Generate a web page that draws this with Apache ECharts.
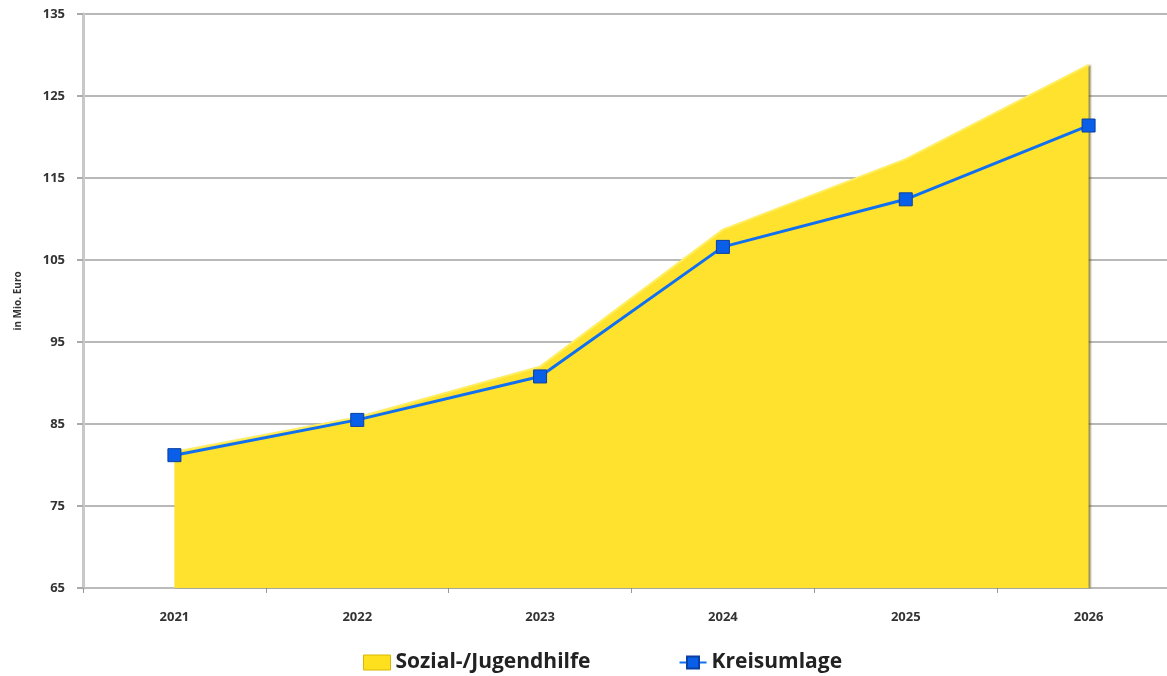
<!DOCTYPE html>
<html><head><meta charset="utf-8">
<script src="https://cdn.jsdelivr.net/npm/echarts@6/dist/echarts.min.js"></script>
<style>html,body{margin:0;padding:0;background:#fff;overflow:hidden;width:1167px;height:676px}#c{width:1180px;height:676px}</style>
</head><body><div id="c"></div>
<script>
const years = ['2021','2022','2023','2024','2025','2026'];
const sozialJugendhilfe = [81.6, 85.8, 92.0, 108.7, 117.3, 128.8];
const kreisumlage = [81.2, 85.5, 90.8, 106.6, 112.4, 121.4];
const yTicks = {min: 65, max: 135, interval: 10};
const seriesNames = ['Sozial-/Jugendhilfe', 'Kreisumlage'];
const yAxisTitle = 'in Mio. Euro';

const font = '"Open Sans", "Liberation Sans", sans-serif';
const chart = echarts.init(document.getElementById('c'));
chart.setOption({
  animation: false,
  textStyle: {fontFamily: font},
  grid: {left: 83, right: 0, top: 14, height: 574},
  legend: {
    top: 647, left: 358, itemGap: 88, itemWidth: 27, itemHeight: 15,
    textStyle: {fontSize: 21, fontWeight: 'bold', color: '#222', fontFamily: font},
    data: [
      {name: seriesNames[0], icon: 'rect', itemStyle: {color: '#FFE01F', borderColor: '#d8b800', borderWidth: 1}},
      {name: seriesNames[1]}
    ]
  },
  xAxis: {
    type: 'category', data: years, boundaryGap: true,
    axisLine: {lineStyle: {color: '#bbb', width: 2}},
    axisTick: {show: true, lineStyle: {color: '#999'}, length: 5},
    axisLabel: {fontSize: 13, fontWeight: 'bold', color: '#333', margin: 23}
  },
  yAxis: {
    type: 'value', min: yTicks.min, max: yTicks.max, interval: yTicks.interval,
    name: yAxisTitle, nameLocation: 'middle', nameGap: 60, nameRotate: 90,
    nameTextStyle: {fontSize: 10, fontWeight: 'bold', color: '#333'},
    axisLine: {show: true, lineStyle: {color: '#c8c8c8', width: 3}},
    axisTick: {show: true, inside: false, length: 6, lineStyle: {color: '#aaa', width: 2}},
    axisLabel: {fontSize: 13, fontWeight: 'bold', color: '#333', margin: 18},
    splitLine: {lineStyle: {color: '#b8b8b8', width: 2}}
  },
  series: [
    {
      name: seriesNames[0], type: 'line', data: sozialJugendhilfe,
      symbol: 'none', z: 2,
      lineStyle: {color: '#FFEF60', width: 2},
      itemStyle: {color: '#FFE01F'},
      areaStyle: {color: '#FFE22E', opacity: 1, shadowColor: 'rgba(90,80,0,0.7)', shadowBlur: 2, shadowOffsetX: 2}
    },
    {
      name: seriesNames[1], type: 'line', data: kreisumlage,
      symbol: 'rect', symbolSize: 13, z: 3,
      lineStyle: {color: '#1170F0', width: 3},
      itemStyle: {color: '#0A5FE8', borderColor: '#0A3FA0', borderWidth: 1}
    }
  ]
});
</script></body></html>
